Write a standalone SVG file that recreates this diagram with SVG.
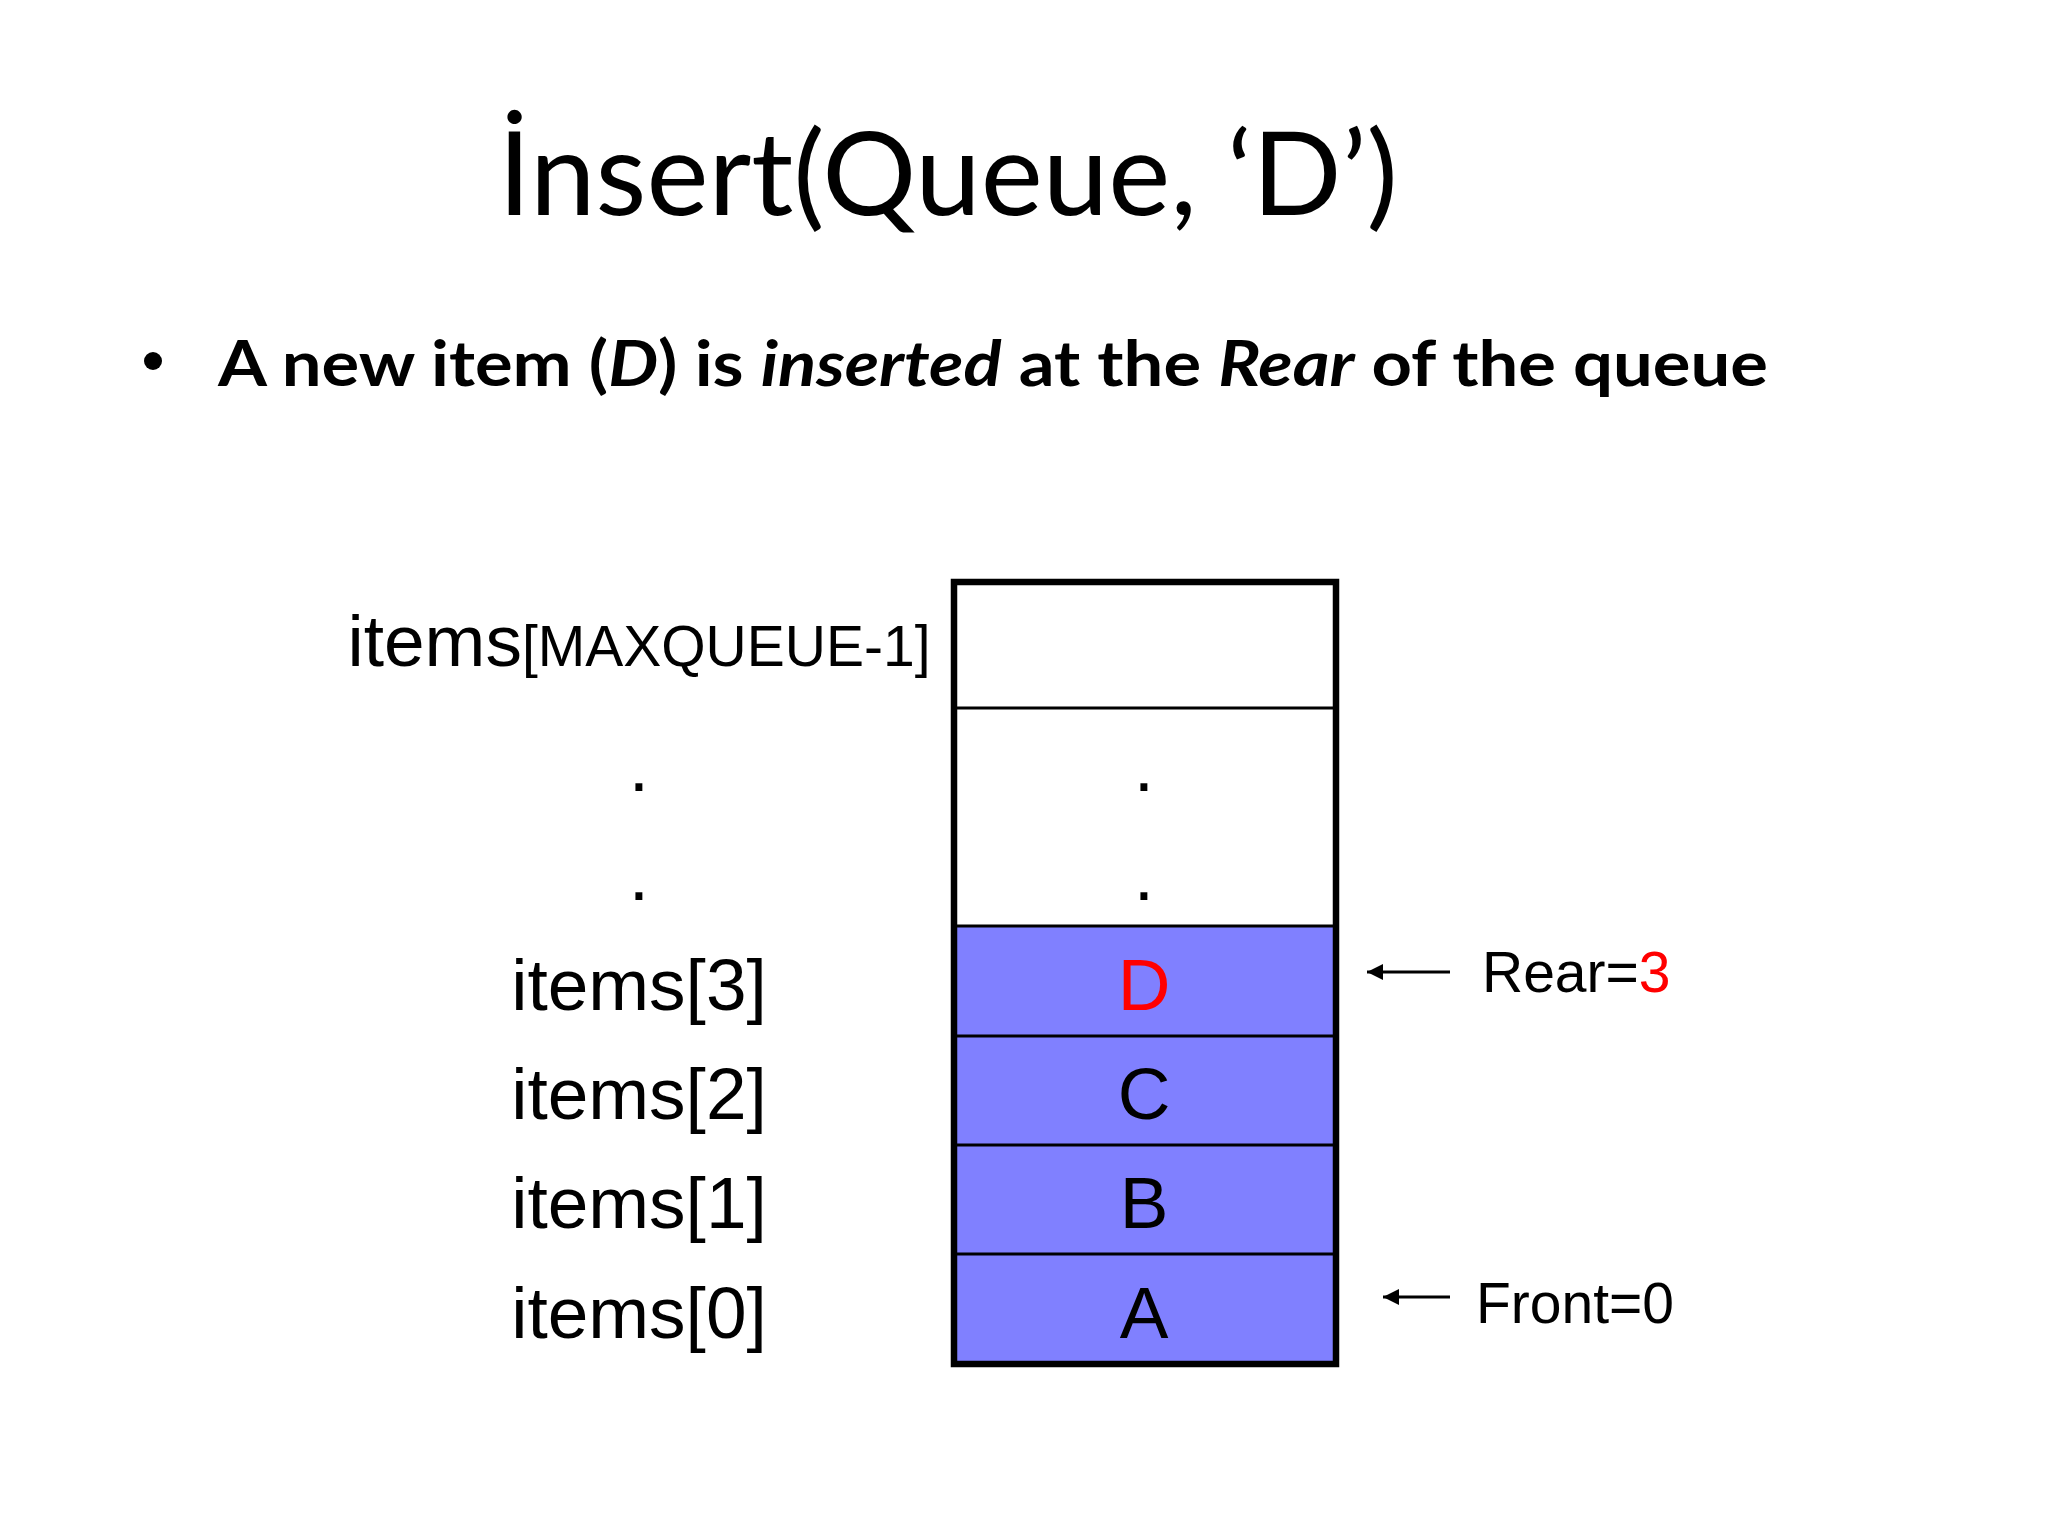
<svg xmlns="http://www.w3.org/2000/svg" width="2048" height="1536" viewBox="0 0 2048 1536">
  <defs>
    <marker id="ah" markerUnits="userSpaceOnUse" markerWidth="18" markerHeight="18" refX="16" refY="8" orient="auto">
      <path d="M0,0 L16,8 L0,16 Z" fill="#000"/>
    </marker>
    <style>
      .title { font-family: Lato, "Open Sans", sans-serif; font-size: 117px; fill: #000; }
      .bullet { font-family: Lato, "Open Sans", sans-serif; font-weight: bold; font-size: 63px; fill: #000; }
      .lbl { font-family: "Liberation Sans", Arial, sans-serif; font-size: 73px; fill: #000; text-anchor: middle; }
      .cell { font-family: "Liberation Sans", Arial, sans-serif; font-size: 73px; fill: #000; text-anchor: middle; }
      .ptr { font-family: "Liberation Sans", Arial, sans-serif; font-size: 57px; fill: #000; }
      .red { fill: #FF0000; }
      .row { stroke: #000; stroke-width: 3; }
      .conn { stroke: #000; stroke-width: 3; fill: none; marker-end: url(#ah); }
    </style>
  </defs>
  <rect x="0" y="0" width="2048" height="1536" fill="#FFFFFF"/>

  <g id="title">
    <text class="title" x="498" y="215" textLength="900" lengthAdjust="spacingAndGlyphs">İnsert(Queue, ‘D’)</text>
  </g>

  <g id="bullet">
    <circle cx="153" cy="361" r="9" fill="#000"/>
    <text class="bullet" x="218" y="386" textLength="1550" lengthAdjust="spacingAndGlyphs">A new item (<tspan font-style="italic">D</tspan>) is <tspan font-style="italic">inserted</tspan> at the <tspan font-style="italic">Rear</tspan> of the queue</text>
  </g>

  <g id="labels">
    <text class="lbl" x="639" y="666"><tspan font-size="73">items</tspan><tspan font-size="57">[MAXQUEUE-1]</tspan></text>
    <text class="lbl" x="639" y="791">.</text>
    <text class="lbl" x="639" y="900">.</text>
    <text class="lbl" x="639" y="1010">items[3]</text>
    <text class="lbl" x="639" y="1119">items[2]</text>
    <text class="lbl" x="639" y="1228">items[1]</text>
    <text class="lbl" x="639" y="1338">items[0]</text>
  </g>

  <g id="queue">
    <rect x="954" y="926" width="382" height="438" fill="#8080FF"/>
    <line class="row" x1="954" y1="708" x2="1336" y2="708"/>
    <line class="row" x1="954" y1="926" x2="1336" y2="926"/>
    <line class="row" x1="954" y1="1036" x2="1336" y2="1036"/>
    <line class="row" x1="954" y1="1145" x2="1336" y2="1145"/>
    <line class="row" x1="954" y1="1254" x2="1336" y2="1254"/>
    <rect x="954" y="582" width="382" height="782" fill="none" stroke="#000" stroke-width="6.5"/>
    <text class="cell" x="1144" y="791">.</text>
    <text class="cell" x="1144" y="900">.</text>
    <text class="cell red" x="1144" y="1010">D</text>
    <text class="cell" x="1144" y="1119">C</text>
    <text class="cell" x="1144" y="1228">B</text>
    <text class="cell" x="1144" y="1338">A</text>
  </g>

  <g id="connectors">
    <line class="conn" x1="1450" y1="972" x2="1367" y2="972"/>
    <line class="conn" x1="1450" y1="1297" x2="1383" y2="1297"/>
  </g>

  <g id="rear">
    <text class="ptr" x="1482" y="992">Rear=<tspan class="red">3</tspan></text>
  </g>
  <g id="front">
    <text class="ptr" x="1476" y="1323">Front=0</text>
  </g>
</svg>
